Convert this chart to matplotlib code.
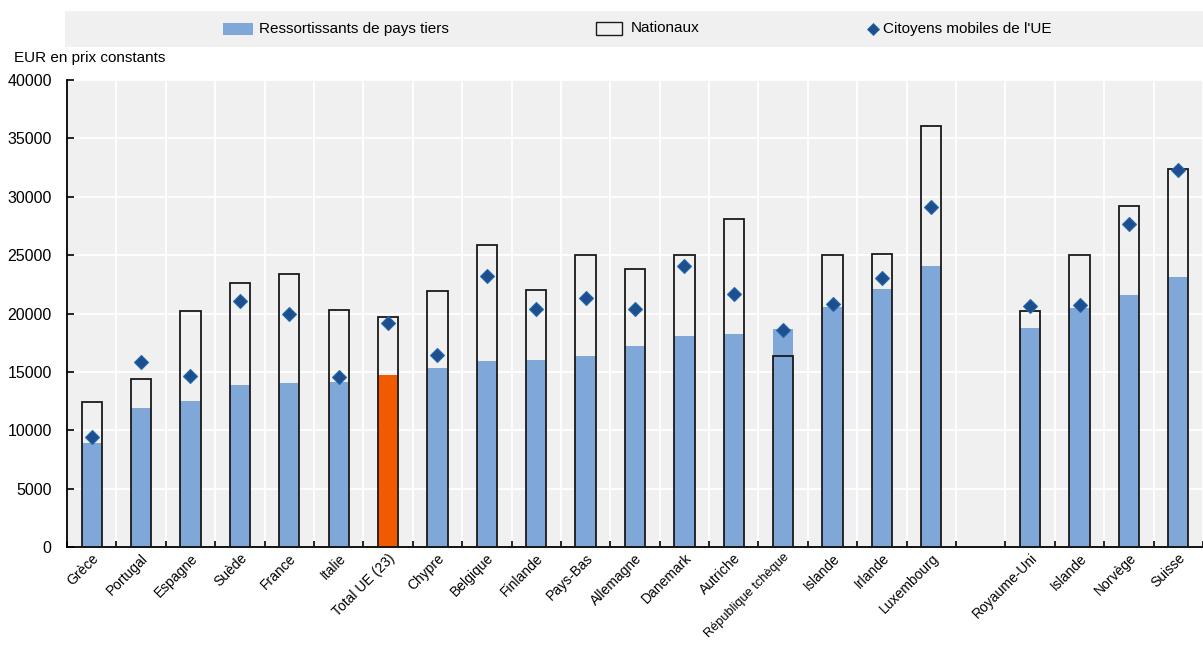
import matplotlib
matplotlib.use("Agg")
import matplotlib.pyplot as plt
import numpy as np
from matplotlib.patches import Rectangle
from matplotlib.lines import Line2D

plt.rcParams['font.family'] = ['Liberation Sans', 'DejaVu Sans']

categories = ["Grèce", "Portugal", "Espagne", "Suède", "France", "Italie", "Total UE (23)",
              "Chypre", "Belgique", "Finlande", "Pays-Bas", "Allemagne", "Danemark", "Autriche",
              "République tchèque", "Islande", "Irlande", "Luxembourg", "",
              "Royaume-Uni", "Islande", "Norvège", "Suisse"]
tiers = [8880, 11900, 12480, 13840, 14050, 14130, 14700, 15330, 15910, 16020, 16390, 17250,
         18090, 18240, 18670, 20580, 22070, 24070, np.nan, 18800, 20510, 21620, 23090]
nationaux = [12390, 14360, 20240, 22640, 23410, 20300, 19670, 21930, 25910, 22010, 25000, 23810,
             25000, 28120, 16390, 25040, 25120, 36090, np.nan, 20200, 25000, 29200, 32390]
mobiles_ue = [9420, 15850, 14680, 21100, 19960, 14530, 19210, 16420, 23180, 20370, 21360, 20390,
              24040, 21700, 18620, 20840, 23070, 29120, np.nan, 20600, 20770, 27690, 32330]
highlight = "Total UE (23)"

W, H = 1203, 645
fig = plt.figure(figsize=(W / 100, H / 100), dpi=100)
ax = fig.add_axes([67 / W, (H - 547) / H, (W - 67) / W, (547 - 80) / H])
bg = '#f0f0f0'
ax.set_facecolor(bg)

x = np.arange(len(categories))
blue = '#7fa8d9'
orange = '#f25a00'
colors = [orange if c == highlight else blue for c in categories]
bw = 0.41
ax.bar(x, tiers, width=bw, color=colors, zorder=2, linewidth=0)
ax.bar(x, nationaux, width=bw, facecolor='none', edgecolor='#1a1a1a', linewidth=1.3, zorder=3)
ax.plot(x, mobiles_ue, linestyle='none', marker='D', markersize=7.5,
        markerfacecolor='#1f4e8c', markeredgecolor='#1f6ab4', markeredgewidth=0.8, zorder=4)

ax.set_ylim(0, 40000)
ax.set_xlim(-0.5, 22 + (1203 - 1187) / 49.8)
ax.set_yticks(np.arange(0, 40001, 5000))
ax.set_xticks(x)
labels = ax.set_xticklabels(categories, rotation=45, ha='right', rotation_mode='anchor', fontsize=10)
for lab in labels:
    if len(lab.get_text()) > 15:
        lab.set_fontsize(9.2)
ax.set_xticks(np.arange(-0.5, len(categories), 1), minor=True)
ax.tick_params(axis='x', which='major', length=0, pad=3)
ax.tick_params(axis='x', which='minor', direction='in', length=4, width=1.2, color='black')
ax.tick_params(axis='y', direction='in', length=5, width=1.2, labelsize=11.5, pad=11)
ax.grid(True, axis='y', color='white', linewidth=1.3, zorder=0)
ax.grid(True, axis='x', which='minor', color='white', linewidth=1.3, zorder=0)
ax.set_axisbelow(True)
for s in ['top', 'right']:
    ax.spines[s].set_visible(False)
for s in ['left', 'bottom']:
    ax.spines[s].set_linewidth(1.3)
    ax.spines[s].set_color('black')

fig.text(14 / W, 1 - 58 / H, "EUR en prix constants", fontsize=11, va='center', ha='left')

# Legend
fig.patches.append(Rectangle((65 / W, 1 - 47 / H), (W - 65) / W, 36 / H, transform=fig.transFigure,
                             facecolor=bg, edgecolor='none', zorder=0))
ly = 1 - 28.5 / H
fig.patches.append(Rectangle((223 / W, 1 - 34.5 / H), 30 / W, 12 / H, transform=fig.transFigure,
                             facecolor=blue, edgecolor='none'))
fig.text(259 / W, ly, "Ressortissants de pays tiers", fontsize=11, va='center')
fig.patches.append(Rectangle((596 / W, 1 - 35 / H), 26 / W, 13 / H, transform=fig.transFigure,
                             facecolor='none', edgecolor='#1a1a1a', linewidth=1.0))
fig.text(631 / W, ly, "Nationaux", fontsize=11, va='center')
fig.add_artist(Line2D([873 / W], [ly], transform=fig.transFigure, marker='D', markersize=6,
                      markerfacecolor='#1f4e8c', markeredgecolor='#1f6ab4', markeredgewidth=0.6,
                      linestyle='none'))
fig.text(883 / W, ly, "Citoyens mobiles de l'UE", fontsize=11, va='center')

fig.savefig("out.png", dpi=100)
